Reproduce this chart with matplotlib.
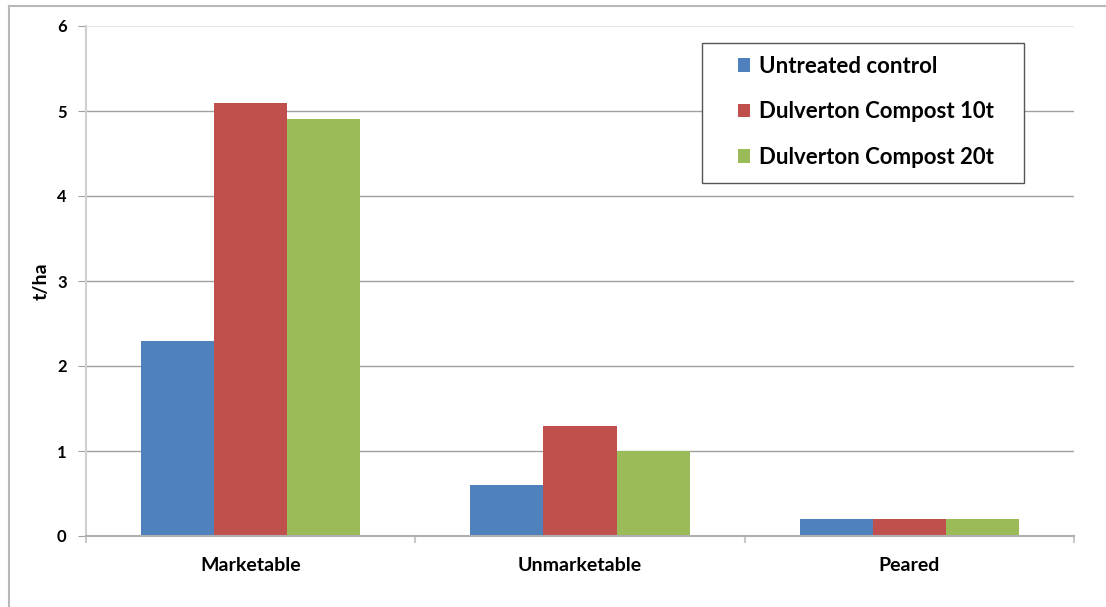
import matplotlib
matplotlib.use("Agg")
import matplotlib.pyplot as plt
import numpy as np
from matplotlib.lines import Line2D
from matplotlib.patches import Rectangle

categories = ["Marketable", "Unmarketable", "Peared"]
series_names = ["Untreated control", "Dulverton Compost 10t", "Dulverton Compost 20t"]
untreated = [2.3, 0.6, 0.2]
compost_10t = [5.1, 1.3, 0.2]
compost_20t = [4.9, 1.0, 0.2]
colors = ["#4f81bd", "#c0504d", "#9bbb59"]
yticks = [0, 1, 2, 3, 4, 5, 6]

plt.rcParams["font.family"] = ["Lato", "DejaVu Sans"]
plt.rcParams["font.weight"] = "bold"

W, H = 1106, 607
fig = plt.figure(figsize=(W / 100, H / 100), dpi=100)
ax = fig.add_axes([86 / W, 71 / H, 988 / W, 510 / H])

x = np.arange(len(categories))
width = 0.222
for i, (vals, name, c) in enumerate(zip([untreated, compost_10t, compost_20t], series_names, colors)):
    ax.bar(x + (i - 1) * width, vals, width, color=c, label=name, zorder=3)

ax.set_xlim(-0.5, len(categories) - 0.5)
ax.set_ylim(0, 6)
ax.set_yticks(yticks)
ax.set_yticklabels([str(t) for t in yticks], fontsize=12, fontweight="bold")
ax.set_xticks(x)
ax.set_xticklabels(categories, fontsize=14, fontweight="bold")
ax.tick_params(axis="x", length=0, pad=15)
ax.tick_params(axis="y", length=6, color="#a0a0a0", pad=8)

# category boundary ticks below the axis
for b in np.arange(-0.5, len(categories), 1.0):
    ax.plot([b, b], [0, -0.07], color="#c8c8c8", lw=1.5, clip_on=False, zorder=4)

for t in yticks[1:]:
    ax.axhline(t, color="#e6e6e6" if t == 6 else "#a0a0a0", lw=1, zorder=1)

for s in ["top", "right"]:
    ax.spines[s].set_visible(False)
ax.spines["left"].set_color("#d0d0d0")
ax.spines["left"].set_linewidth(1.5)
ax.spines["bottom"].set_color("#b0b0b0")
ax.spines["bottom"].set_linewidth(1.5)
ax.spines["bottom"].set_zorder(5)

ax.set_ylabel("t/ha", fontsize=14, fontweight="bold", labelpad=5)

# legend box and entries
box = Rectangle((702 / W, 1 - 183 / H), (1024 - 702) / W, (183 - 43) / H,
                transform=fig.transFigure, facecolor="white", edgecolor="#555555",
                lw=1, zorder=6)
fig.add_artist(box)
leg = fig.legend(*ax.get_legend_handles_labels(), loc="upper left",
                 bbox_to_anchor=(738 / W, 1 - 56 / H),
                 fontsize=16, frameon=False, handlelength=0.55, handleheight=0.55,
                 handletextpad=0.4, labelspacing=1.1, borderpad=0, borderaxespad=0)
leg.set_zorder(7)
for t in leg.get_texts():
    t.set_fontweight("bold")

# outer chart border (left and top)
fig.add_artist(Line2D([8.5 / W, 8.5 / W], [0, 1 - 6 / H], color="#b8b8b8", lw=1.5, transform=fig.transFigure))
fig.add_artist(Line2D([8.5 / W, 1], [1 - 6 / H, 1 - 6 / H], color="#b8b8b8", lw=1.5, transform=fig.transFigure))

fig.savefig("out.png", dpi=100)
